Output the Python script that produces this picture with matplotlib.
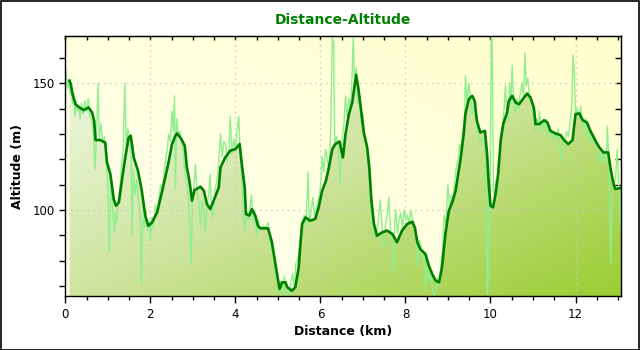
import numpy as np
import matplotlib
matplotlib.use('Agg')
import matplotlib.pyplot as plt
from matplotlib.colors import LinearSegmentedColormap
from matplotlib.patches import Rectangle
from matplotlib.ticker import MultipleLocator

# smoothed profile (km, m)
smooth_km = [0.10, 0.13, 0.17, 0.24, 0.31, 0.43, 0.55, 0.63, 0.68, 0.71, 0.82, 0.94, 0.98, 1.06,
             1.14, 1.19, 1.26, 1.33, 1.41, 1.49, 1.54, 1.61, 1.71, 1.80, 1.88, 1.95, 2.04, 2.16,
             2.28, 2.42, 2.51, 2.59, 2.63, 2.73, 2.81, 2.86, 2.92, 2.98, 3.04, 3.18, 3.26, 3.33,
             3.41, 3.49, 3.61, 3.65, 3.76, 3.88, 4.00, 4.10, 4.16, 4.22, 4.25, 4.33, 4.39, 4.47,
             4.53, 4.59, 4.77, 4.86, 4.93, 4.98, 5.04, 5.10, 5.18, 5.22, 5.33, 5.41, 5.49, 5.53,
             5.57, 5.65, 5.76, 5.88, 5.96, 6.04, 6.13, 6.20, 6.28, 6.35, 6.45, 6.53, 6.59, 6.67,
             6.75, 6.81, 6.84, 6.89, 6.94, 7.02, 7.10, 7.15, 7.20, 7.26, 7.33, 7.45, 7.57, 7.69,
             7.80, 7.92, 8.04, 8.16, 8.22, 8.28, 8.35, 8.47, 8.55, 8.63, 8.71, 8.79, 8.86, 8.94,
             9.02, 9.10, 9.18, 9.24, 9.29, 9.37, 9.41, 9.49, 9.57, 9.63, 9.68, 9.76, 9.87, 9.92,
             9.96, 10.00, 10.06, 10.12, 10.18, 10.24, 10.30, 10.39, 10.43, 10.51, 10.59, 10.67,
             10.76, 10.86, 10.94, 11.02, 11.06, 11.15, 11.26, 11.34, 11.41, 11.53, 11.65, 11.73,
             11.83, 11.93, 12.00, 12.09, 12.17, 12.27, 12.35, 12.47, 12.56, 12.66, 12.77, 12.82,
             12.88, 12.93, 13.02, 13.08]
smooth_alt = [151.0, 149.6, 145.7, 141.7, 140.7, 139.4, 140.4, 138.5, 135.2, 127.6, 127.6, 126.6,
              118.8, 114.2, 104.3, 101.7, 103.0, 111.5, 120.7, 128.6, 129.3, 120.7, 115.5, 107.6,
              97.8, 93.8, 95.1, 99.1, 107.6, 118.1, 126.0, 129.3, 130.2, 128.0, 125.3, 116.8,
              111.5, 103.7, 107.9, 109.2, 107.6, 102.4, 100.4, 103.7, 108.9, 116.8, 120.7, 123.4,
              124.0, 126.0, 116.8, 108.9, 98.4, 97.8, 100.4, 97.8, 93.8, 92.8, 92.8, 87.3, 80.0,
              74.8, 68.9, 71.5, 71.5, 69.6, 68.2, 69.6, 77.4, 86.6, 94.5, 97.1, 95.8, 96.5, 101.1,
              107.6, 111.5, 116.8, 124.0, 126.0, 127.0, 120.7, 129.9, 137.8, 142.4, 149.6, 153.3,
              148.3, 141.7, 130.6, 124.7, 116.8, 103.7, 94.5, 89.9, 91.2, 91.9, 90.6, 87.3, 91.9,
              94.5, 95.4, 93.2, 87.3, 84.6, 82.7, 78.1, 74.8, 72.2, 71.5, 77.4, 90.6, 99.7, 103.0,
              107.6, 114.2, 119.4, 129.9, 137.8, 143.7, 145.0, 143.0, 135.2, 130.6, 131.2, 122.0,
              110.2, 101.7, 101.1, 106.3, 114.2, 127.3, 133.9, 138.5, 143.0, 145.0, 142.4, 141.7,
              143.7, 145.9, 144.4, 140.4, 133.9, 133.9, 135.4, 134.5, 131.2, 130.2, 129.5, 127.6,
              126.0, 127.6, 137.8, 138.1, 135.4, 134.5, 131.2, 127.3, 124.7, 122.7, 122.7, 116.8,
              111.5, 108.3, 108.5, 108.7]

# raw GPS altitude (km, m)
raw_km = [0.02, 0.05, 0.08, 0.11, 0.14, 0.17, 0.20, 0.23, 0.26, 0.29, 0.32, 0.35, 0.38, 0.42,
          0.46, 0.50, 0.54, 0.58, 0.62, 0.66, 0.70, 0.73, 0.77, 0.80, 0.84, 0.88, 0.92, 0.96,
          1.00, 1.02, 1.04, 1.07, 1.10, 1.13, 1.15, 1.18, 1.21, 1.24, 1.28, 1.32, 1.36, 1.40,
          1.43, 1.47, 1.51, 1.55, 1.57, 1.60, 1.64, 1.68, 1.72, 1.76, 1.79, 1.82, 1.86, 1.90,
          1.94, 1.98, 2.00, 2.04, 2.08, 2.12, 2.16, 2.20, 2.24, 2.28, 2.32, 2.36, 2.40, 2.43,
          2.47, 2.51, 2.54, 2.57, 2.59, 2.62, 2.66, 2.70, 2.74, 2.78, 2.82, 2.86, 2.90, 2.94,
          2.96, 2.99, 3.03, 3.06, 3.10, 3.14, 3.18, 3.22, 3.26, 3.29, 3.33, 3.37, 3.41, 3.44,
          3.48, 3.52, 3.56, 3.60, 3.65, 3.69, 3.73, 3.77, 3.81, 3.85, 3.88, 3.92, 3.96, 4.00,
          4.04, 4.08, 4.12, 4.16, 4.19, 4.22, 4.26, 4.30, 4.34, 4.38, 4.42, 4.46, 4.50, 4.54,
          4.58, 4.62, 4.66, 4.70, 4.74, 4.77, 4.81, 4.85, 4.89, 4.93, 4.96, 5.00, 5.03, 5.07,
          5.11, 5.15, 5.19, 5.23, 5.27, 5.31, 5.35, 5.39, 5.42, 5.46, 5.50, 5.54, 5.58, 5.62,
          5.66, 5.71, 5.74, 5.78, 5.82, 5.86, 5.90, 5.94, 5.98, 6.02, 6.04, 6.08, 6.12, 6.16,
          6.20, 6.24, 6.28, 6.31, 6.34, 6.38, 6.42, 6.47, 6.51, 6.55, 6.59, 6.63, 6.67, 6.71,
          6.74, 6.77, 6.80, 6.84, 6.88, 6.92, 6.96, 7.00, 7.04, 7.08, 7.12, 7.16, 7.20, 7.24,
          7.28, 7.32, 7.36, 7.41, 7.45, 7.49, 7.53, 7.57, 7.61, 7.65, 7.69, 7.73, 7.75, 7.77,
          7.81, 7.85, 7.89, 7.93, 7.97, 8.01, 8.05, 8.09, 8.12, 8.16, 8.20, 8.24, 8.27, 8.29,
          8.33, 8.37, 8.41, 8.45, 8.47, 8.51, 8.55, 8.59, 8.63, 8.67, 8.71, 8.75, 8.79, 8.83,
          8.87, 8.91, 8.95, 9.00, 9.04, 9.08, 9.12, 9.16, 9.20, 9.24, 9.27, 9.31, 9.35, 9.39,
          9.41, 9.45, 9.49, 9.53, 9.57, 9.61, 9.65, 9.69, 9.73, 9.77, 9.81, 9.85, 9.89, 9.92,
          9.94, 9.96, 9.99, 10.02, 10.04, 10.07, 10.10, 10.13, 10.16, 10.20, 10.24, 10.28, 10.32,
          10.35, 10.38, 10.42, 10.45, 10.48, 10.51, 10.54, 10.58, 10.62, 10.66, 10.70, 10.74,
          10.78, 10.81, 10.84, 10.88, 10.92, 10.96, 11.00, 11.04, 11.08, 11.12, 11.15, 11.19,
          11.23, 11.27, 11.31, 11.35, 11.39, 11.43, 11.47, 11.51, 11.55, 11.59, 11.63, 11.67,
          11.71, 11.75, 11.79, 11.83, 11.87, 11.91, 11.94, 11.97, 12.00, 12.04, 12.08, 12.12,
          12.16, 12.20, 12.24, 12.28, 12.32, 12.36, 12.40, 12.44, 12.48, 12.52, 12.56, 12.60,
          12.64, 12.68, 12.72, 12.75, 12.78, 12.81, 12.83, 12.86, 12.90, 12.94, 12.98, 13.02,
          13.06, 13.08]
raw_alt = [155, 148, 151, 146, 149, 142, 146, 137, 143, 139, 141, 136, 142, 138,
           143, 139, 144, 137, 136, 131, 116, 127, 150, 128, 134, 126, 129, 121,
           110, 91, 83, 112, 104, 96, 91, 99, 95, 103, 108, 117, 123, 150,
           125, 132, 128, 121, 90, 116, 106, 112, 104, 99, 71, 97, 93, 100,
           92, 96, 88, 97, 93, 102, 99, 104, 110, 108, 114, 120, 124, 130,
           127, 139, 131, 145, 108, 136, 129, 131, 126, 122, 114, 111, 103, 88,
           79, 104, 110, 118, 107, 103, 94, 104, 99, 91, 100, 106, 114, 99,
           97, 108, 111, 117, 130, 121, 127, 126, 119, 124, 137, 122, 128, 124,
           131, 137, 120, 110, 98, 92, 100, 96, 101, 106, 95, 99, 90, 96,
           92, 93, 94, 93, 94, 95, 88, 84, 82, 78, 73, 75, 67, 72,
           66, 74, 70, 66, 68, 72, 75, 68, 79, 80, 84, 90, 95, 98,
           94, 115, 94, 99, 105, 97, 100, 104, 106, 113, 121, 115, 124, 120,
           116, 130, 168, 166, 125, 129, 124, 110, 128, 133, 145, 137, 144, 140,
           150, 168, 152, 156, 142, 146, 134, 138, 128, 126, 118, 108, 98, 93,
           89, 91, 96, 104, 93, 85, 94, 98, 105, 92, 83, 76, 95, 100,
           91, 96, 99, 93, 100, 96, 98, 94, 100, 97, 94, 90, 84, 78,
           88, 85, 80, 82, 68, 77, 72, 75, 70, 66, 68, 73, 70, 77,
           84, 98, 94, 110, 100, 106, 103, 112, 117, 120, 126, 124, 131, 135,
           153, 142, 150, 144, 138, 141, 137, 132, 128, 127, 129, 125, 118, 67,
           70, 105, 100, 168, 167, 108, 104, 112, 107, 116, 130, 133, 140,
           149, 140, 135, 150, 142, 157, 146, 138, 144, 140, 146, 150,
           144, 162, 149, 152, 143, 144, 138, 131, 136, 134, 139, 131,
           135, 132, 136, 129, 133, 131, 128, 130, 128, 132, 125, 119,
           127, 126, 131, 129, 134, 140, 161, 155, 138, 140, 136, 141,
           134, 132, 136, 129, 131, 127, 130, 126, 128, 124, 119, 123,
           118, 122, 119, 133, 120, 98, 79, 104, 110, 112, 124, 108,
           94, 106]

xmin, xmax = 0, 13.08
ymin, ymax = 66, 168.6

fig = plt.figure(figsize=(6.4, 3.5), dpi=100)
fig.patch.set_facecolor('white')
fig.patches.append(Rectangle((0.001, 0.001), 0.997, 0.996, transform=fig.transFigure,
                             fill=False, edgecolor='black', linewidth=1.2))
ax = fig.add_axes([0.102, 0.1534, 0.869, 0.7437])

# background gradient (ivory -> light yellow towards top right)
gx, gy = np.meshgrid(np.linspace(0, 1, 200), np.linspace(0, 1, 200))
bg_cmap = LinearSegmentedColormap.from_list('bg', ['#fffff2', '#ffffcc'])
ax.imshow((gx + gy) / 2, cmap=bg_cmap, extent=[0, 1, 0, 1], origin='lower',
          transform=ax.transAxes, aspect='auto', zorder=0, vmin=0, vmax=1)

# gradient fill under the smoothed profile
fill_cmap = LinearSegmentedColormap.from_list('fill', ['#f6faee', '#cfe59f', '#9acd32'])
poly = ax.fill_between(smooth_km, smooth_alt, ymin - 5, facecolor='none', edgecolor='none')
im = ax.imshow((gx + (1 - gy)) / 2, cmap=fill_cmap, extent=[0, 1, 0, 1], origin='lower',
               transform=ax.transAxes, aspect='auto', zorder=1, vmin=0, vmax=1)
im.set_clip_path(poly.get_paths()[0], transform=ax.transData)

ax.plot(raw_km, raw_alt, color='#90ee90', lw=1, zorder=3)
ax.plot(smooth_km, smooth_alt, color='#008000', lw=1.9, zorder=4)

ax.set_xlim(xmin, xmax)
ax.set_ylim(ymin, ymax)
ax.xaxis.set_major_locator(MultipleLocator(2))
ax.xaxis.set_minor_locator(MultipleLocator(0.5))
ax.yaxis.set_major_locator(MultipleLocator(50))
ax.yaxis.set_minor_locator(MultipleLocator(10))
ax.tick_params(which='both', labelsize=8.5, width=1, colors='black', direction='out')
ax.tick_params(axis='x', which='major', length=5)
ax.tick_params(axis='x', which='minor', length=3)
ax.tick_params(axis='y', which='both', length=4)
ax.grid(True, which='major', color='#c8c8c8', linestyle=(0, (1, 3)), linewidth=1)
for s in ax.spines.values():
    s.set_linewidth(1)
    s.set_zorder(5)

# inward ticks on top and right
top = ax.secondary_xaxis('top')
top.xaxis.set_major_locator(MultipleLocator(2))
top.xaxis.set_minor_locator(MultipleLocator(0.5))
top.tick_params(which='both', direction='in', labeltop=False, length=3, width=1)
right = ax.secondary_yaxis('right')
right.yaxis.set_major_locator(MultipleLocator(50))
right.yaxis.set_minor_locator(MultipleLocator(10))
right.tick_params(which='both', direction='in', labelright=False, length=4, width=1)

ax.set_title('Distance-Altitude', color='#008000', fontweight='bold', fontsize=10, pad=9)
ax.set_xlabel('Distance (km)', fontweight='bold', fontsize=9, labelpad=3)
ax.set_ylabel('Altitude (m)', fontweight='bold', fontsize=9, labelpad=6)

fig.savefig('out.png', dpi=100)
